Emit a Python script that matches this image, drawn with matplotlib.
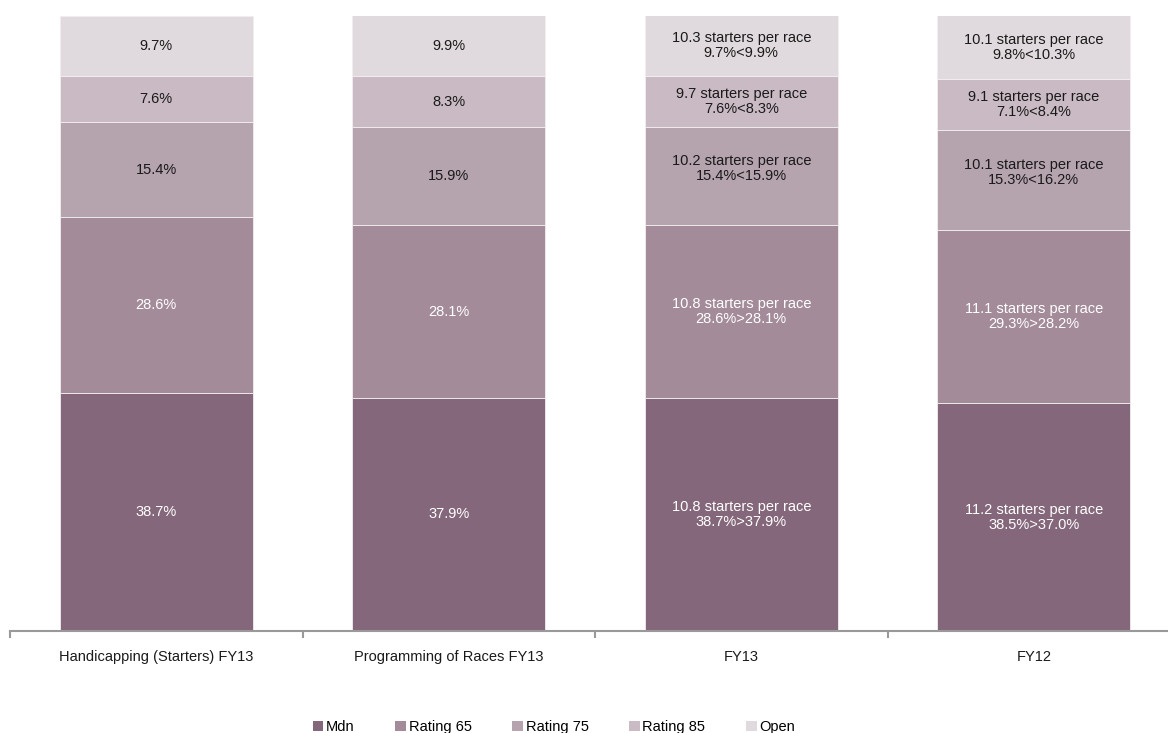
import matplotlib
matplotlib.use("Agg")
import matplotlib.pyplot as plt
from matplotlib.patches import Patch
import numpy as np

plt.rcParams['font.family'] = ['Liberation Sans', 'DejaVu Sans']

categories = ["Handicapping (Starters) FY13", "Programming of Races FY13", "FY13", "FY12"]
series = ["Mdn", "Rating 65", "Rating 75", "Rating 85", "Open"]
mdn = [38.7, 37.9, 37.9, 37.0]
r65 = [28.6, 28.1, 28.1, 28.2]
r75 = [15.4, 15.9, 15.9, 16.2]
r85 = [7.6, 8.3, 8.3, 8.4]
opn = [9.7, 9.9, 9.9, 10.3]
values = [mdn, r65, r75, r85, opn]

labels_mdn = ["38.7%", "37.9%", "10.8 starters per race\n38.7%>37.9%", "11.2 starters per race\n38.5%>37.0%"]
labels_r65 = ["28.6%", "28.1%", "10.8 starters per race\n28.6%>28.1%", "11.1 starters per race\n29.3%>28.2%"]
labels_r75 = ["15.4%", "15.9%", "10.2 starters per race\n15.4%<15.9%\n", "10.1 starters per race\n15.3%<16.2%\n"]
labels_r85 = ["7.6%", "8.3%", "9.7 starters per race\n7.6%<8.3%", "9.1 starters per race\n7.1%<8.4%"]
labels_opn = ["9.7%", "9.9%", "10.3 starters per race\n9.7%<9.9%", "10.1 starters per race\n9.8%<10.3%"]
labels = [labels_mdn, labels_r65, labels_r75, labels_r85, labels_opn]

colors = ["#84677B", "#A38B99", "#B5A3AE", "#C9BAC3", "#E0D9DD"]
text_colors = ["white", "white", "#1a1a1a", "#1a1a1a", "#1a1a1a"]

W, H = 1168, 733
fig = plt.figure(figsize=(W / 100, H / 100), dpi=100)
ax = fig.add_axes([10 / W, (H - 631) / H, (W - 10) / W, (631 - 16) / H])

x = np.arange(len(categories))
bottom = np.zeros(len(categories))
for vals, col, labs, tc in zip(values, colors, labels, text_colors):
    vals = np.array(vals)
    ax.bar(x, vals, width=0.66, bottom=bottom, color=col, edgecolor="#f2eef0", linewidth=0.6)
    for xi, b, v, lab in zip(x, bottom, vals, labs):
        ax.text(xi, b + v / 2, lab, ha="center", va="center", color=tc, fontsize=10.5, linespacing=1.1)
    bottom += vals

step = 292.5
ax.set_xlim(-0.5, -0.5 + (W - 10) / step)
ax.set_ylim(0, 100)
for s in ["top", "right", "left"]:
    ax.spines[s].set_visible(False)
ax.spines["bottom"].set_color("#999999")
ax.spines["bottom"].set_linewidth(1.5)
ax.set_yticks([])
ax.set_xticks(x)
ax.set_xticklabels(categories, fontsize=10.5, color="#1a1a1a")
ax.tick_params(axis="x", which="major", length=0, pad=14)
ax.set_xticks([-0.5, 0.5, 1.5, 2.5], minor=True)
ax.tick_params(axis="x", which="minor", length=5, width=1.5, color="#999999", direction="out")

handles = [Patch(facecolor=c, edgecolor="none") for c in colors]
fig.legend(handles, series, loc="center", bbox_to_anchor=(554 / W, 1 - 727 / H), ncol=5,
           frameon=False, fontsize=10.5, handlelength=0.7, handleheight=0.7, handletextpad=0.2,
           columnspacing=2.8)

fig.savefig("out.png", dpi=100)
